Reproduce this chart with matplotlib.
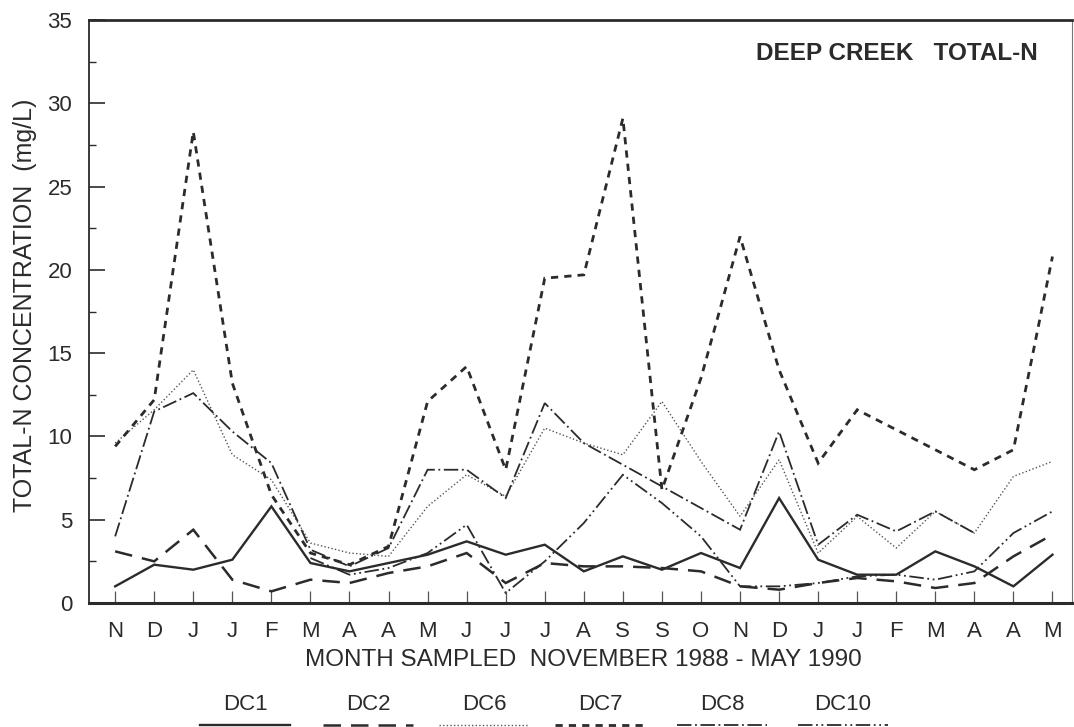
import numpy as np
import matplotlib
matplotlib.use("Agg")
import matplotlib.pyplot as plt
from matplotlib.lines import Line2D

plt.rcParams["font.family"] = ["Liberation Sans", "DejaVu Sans"]

months = ["N", "D", "J", "J", "F", "M", "A", "A", "M", "J", "J", "J", "A",
          "S", "S", "O", "N", "D", "J", "J", "F", "M", "A", "A", "M"]

nan = np.nan
dc1 = [1.0, 2.3, 2.0, 2.6, 5.8, 2.4, 1.9, 2.4, 2.9, 3.7, 2.9, 3.5, 1.9,
       2.8, 2.0, 3.0, 2.1, 6.3, 2.6, 1.7, 1.7, 3.1, 2.2, 1.0, 2.9]
dc2 = [3.1, 2.5, 4.4, 1.4, 0.7, 1.4, 1.2, 1.8, 2.2, 3.0, 1.2, 2.4, 2.2,
       2.2, 2.1, 1.9, 1.0, 0.8, 1.2, 1.5, 1.3, 0.9, 1.2, 2.8, 4.1]
dc6 = [9.6, 11.6, 14.0, 8.9, 7.4, 3.6, 3.0, 2.8, 5.8, 7.7, 6.4, 10.5, 9.6,
       8.9, 12.1, 8.5, 5.2, 8.6, 3.0, 5.2, 3.3, 5.5, 4.2, 7.6, 8.5]
dc7 = [9.4, 12.2, 28.3, 13.2, 6.5, 3.0, 2.3, 3.4, 12.1, 14.2, 8.0, 19.5, 19.7,
       29.1, 6.8, 13.5, 22.0, 14.0, 8.4, 11.6, 10.4, 9.2, 8.0, 9.2, 20.8]
dc8 = [4.0, 11.5, 12.6, 10.3, 8.4, 3.2, 2.2, 3.3, 8.0, 8.0, 6.3, 12.0, 9.6,
       8.3, 7.0, 5.7, 4.4, 10.3, 3.5, 5.3, 4.3, 5.5, 4.2, nan, nan]
dc10 = [nan, nan, nan, nan, nan, 2.7, 1.7, 2.1, 3.0, 4.7, 0.6, 2.5, 4.8,
        7.7, 6.0, 4.0, 1.0, 1.0, 1.2, 1.6, 1.7, 1.4, 1.9, 4.2, 5.5]

stations = ["DC1", "DC2", "DC6", "DC7", "DC8", "DC10"]
series = [dc1, dc2, dc6, dc7, dc8, dc10]

ink = "#2b2b2b"
styles = [
    dict(linestyle="-", linewidth=1.7, color=ink),
    dict(linestyle=(0, (7, 4)), linewidth=1.8, color=ink),
    dict(linestyle=(0, (1, 1.6)), linewidth=1.0, color="#555555"),
    dict(linestyle=(0, (2.6, 2.2)), linewidth=2.0, color=ink),
    dict(linestyle=(0, (8, 2, 1, 2)), linewidth=1.3, color=ink),
    dict(linestyle=(0, (8, 2, 1, 2, 1, 2)), linewidth=1.3, color=ink),
]

W, H = 1074, 727
fig = plt.figure(figsize=(W / 100, H / 100), dpi=100)
fig.patch.set_facecolor("white")
ax = fig.add_axes([89 / W, 1 - 603 / H, (1072 - 89) / W, (603 - 20) / H])

x = np.arange(len(months))
for vals, st in zip(series, styles):
    ax.plot(x, vals, solid_joinstyle="miter", dash_joinstyle="miter", **st)

ax.set_xlim(-0.67, 24.5)
ax.set_ylim(0, 35)
ax.set_yticks(np.arange(0, 36, 5))
ax.set_yticks(np.arange(2.5, 35, 5), minor=True)
ax.set_xticks(x)
ax.set_xticklabels(months)

ax.tick_params(axis="y", which="major", direction="in", length=11.5, width=1.2,
               color=ink, labelsize=16, labelcolor=ink, pad=12)
ax.tick_params(axis="y", which="minor", direction="in", length=5, width=1.0, color=ink)
ax.tick_params(axis="x", which="major", direction="in", length=9, width=0.9,
               color="#555555", labelsize=16, labelcolor=ink, pad=13)

ax.spines["top"].set_linewidth(2.0)
ax.spines["bottom"].set_linewidth(2.2)
ax.spines["left"].set_linewidth(1.3)
ax.spines["right"].set_linewidth(0.8)
ax.spines["right"].set_color("#777777")
for s in ("top", "bottom", "left"):
    ax.spines[s].set_color(ink)

fig.text(897 / W, 1 - 54 / H, "DEEP CREEK   TOTAL-N", ha="center", va="center",
         fontsize=17.5, fontweight="bold", color=ink)
fig.text(25 / W, 1 - 305 / H, "TOTAL-N CONCENTRATION  (mg/L)", rotation=90,
         ha="center", va="center", fontsize=18, color=ink)
fig.text(583 / W, 1 - 660 / H, "MONTH SAMPLED  NOVEMBER 1988 - MAY 1990",
         ha="center", va="center", fontsize=17.5, color=ink)

# station key below the axis label
label_x = [245, 368, 484, 600, 722, 843]
for name, lx, st in zip(stations, label_x, styles):
    fig.text(lx / W, 1 - 705 / H, name, ha="center", va="center", fontsize=16, color=ink)
    fig.add_artist(Line2D([(lx - 45) / W, (lx + 45) / W], [1 - 725 / H, 1 - 725 / H],
                          transform=fig.transFigure, **st))

fig.savefig("out.png", dpi=100)
